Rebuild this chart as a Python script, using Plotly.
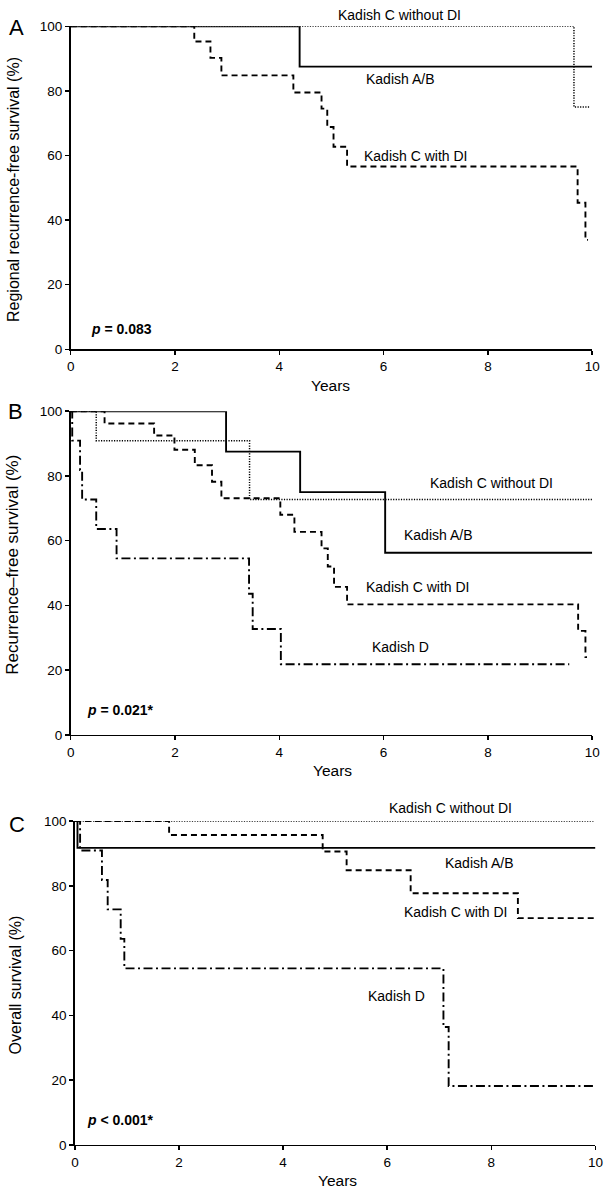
import plotly.graph_objects as go

W, H = 611, 1200
FONT = "Arial, 'Liberation Sans', sans-serif"

# ---------------- data (years, survival %) ----------------
# Panel A: regional recurrence-free survival
a_ab_t = [0, 4.39, 10]
a_ab_s = [100, 87.5, 87.5]
a_cno_t = [0, 9.65, 9.96]
a_cno_s = [100, 75, 75]
a_cdi_t = [0, 2.37, 2.68, 2.89, 4.27, 4.81, 4.92, 5.04, 5.30, 9.72, 9.87, 9.92]
a_cdi_s = [100, 95.3, 90.2, 84.8, 79.5, 74.5, 68.8, 62.7, 56.6, 45.4, 33.9, 33.9]

# Panel B: recurrence-free survival
b_ab_t = [0, 2.98, 4.40, 6.03, 10]
b_ab_s = [100, 87.5, 75, 56.25, 56.25]
b_cno_t = [0, 0.49, 3.43, 10]
b_cno_s = [100, 90.9, 72.7, 72.7]
b_cdi_t = [0, 0.65, 1.60, 1.99, 2.38, 2.71, 2.89, 4.02, 4.29, 4.81, 4.93, 5.05, 5.30, 9.73, 9.87, 9.90]
b_cdi_s = [100, 96.2, 92.5, 88.1, 83.3, 78.2, 73.1, 68.0, 62.7, 57.6, 52.0, 45.7, 40.3, 32.1, 24.0, 24.0]
b_d_t = [0, 0.03, 0.18, 0.22, 0.49, 0.88, 3.42, 3.49, 4.03, 9.56]
b_d_s = [100, 90.9, 81.8, 72.7, 63.6, 54.5, 43.6, 32.7, 21.8, 21.8]

# Panel C: overall survival
c_ab_t = [0, 0.05, 10]
c_ab_s = [100, 91.7, 91.7]
c_cno_t = [0, 9.97]
c_cno_s = [100, 100]
c_cdi_t = [0, 1.81, 4.76, 5.22, 6.45, 8.51, 10]
c_cdi_s = [100, 95.7, 90.6, 84.8, 77.7, 70.0, 70.0]
c_d_t = [0, 0.10, 0.52, 0.63, 0.88, 0.95, 7.08, 7.18, 10]
c_d_s = [100, 90.9, 81.8, 72.7, 63.6, 54.5, 36.4, 18.2, 18.2]

x_ticks = [0, 2, 4, 6, 8, 10]
y_ticks = [0, 20, 40, 60, 80, 100]

STYLES = {
    "ab": dict(color="#000", width=1.9, dash="solid"),
    "cno": dict(color="#000", width=1.5, dash="1.2px,1.4px"),
    "cdi": dict(color="#000", width=1.9, dash="6px,4px"),
    "d": dict(color="#000", width=1.9, dash="9px,3.5px,2px,3.5px"),
}

fig = go.Figure()

def step(t, s, key, n):
    fig.add_trace(go.Scatter(
        x=t, y=s, mode="lines", line_shape="hv", line=STYLES[key],
        xaxis="x" if n == 1 else f"x{n}", yaxis="y" if n == 1 else f"y{n}",
        cliponaxis=False, showlegend=False, hoverinfo="skip"))

step(a_ab_t, a_ab_s, "ab", 1)
step(a_cno_t, a_cno_s, "cno", 1)
step(a_cdi_t, a_cdi_s, "cdi", 1)

step(b_ab_t, b_ab_s, "ab", 2)
step(b_cno_t, b_cno_s, "cno", 2)
step(b_cdi_t, b_cdi_s, "cdi", 2)
step(b_d_t, b_d_s, "d", 2)

step(c_ab_t, c_ab_s, "ab", 3)
step(c_cno_t, c_cno_s, "cno", 3)
step(c_cdi_t, c_cdi_s, "cdi", 3)
step(c_d_t, c_d_s, "d", 3)

def xax(dom, anchor):
    return dict(domain=dom, range=[0, 10], anchor=anchor, showline=True, linecolor="#000",
                linewidth=1.6, ticks="outside", ticklen=4, tickwidth=1.5, tickcolor="#000",
                tickvals=x_ticks, showgrid=False, zeroline=False,
                tickfont=dict(family=FONT, size=13.5, color="#000"))

def yax(dom, anchor):
    return dict(domain=dom, range=[0, 100], anchor=anchor, showline=True, linecolor="#000",
                linewidth=1.6, ticks="outside", ticklen=4, tickwidth=1.5, tickcolor="#000",
                tickvals=y_ticks, showgrid=False, zeroline=False,
                tickfont=dict(family=FONT, size=13.5, color="#000"))

xAB = [68 / W, 600 / W]
xC = [72.3 / W, 603.3 / W]
yA = [1 - 346.7 / H, 1 - 19.5 / H]
yB = [1 - 737 / H, 1 - 409.3 / H]
yC = [1 - 1152.3 / H, 1 - 824.3 / H]

fig.update_layout(
    width=W, height=H, margin=dict(l=0, r=0, t=0, b=0),
    paper_bgcolor="white", plot_bgcolor="white",
    xaxis=xax(xAB, "y"), yaxis=yax(yA, "x"),
    xaxis2=xax(xAB, "y2"), yaxis2=yax(yB, "x2"),
    xaxis3=xax(xC, "y3"), yaxis3=yax(yC, "x3"),
)

ann = []

def label(text, x, y, n, size=14, xanchor="center"):
    ann.append(dict(text=text, x=x, y=y, xref="x" if n == 1 else f"x{n}",
                    yref="y" if n == 1 else f"y{n}", showarrow=False, xanchor=xanchor,
                    yanchor="middle", font=dict(family=FONT, size=size, color="#000")))

def ptext(text, px, py, size, angle=0):
    ann.append(dict(text=text, x=px / W, y=1 - py / H, xref="paper", yref="paper",
                    showarrow=False, xanchor="center", yanchor="middle", textangle=angle,
                    font=dict(family=FONT, size=size, color="#000")))

# Panel A labels
ptext("Kadish C without DI", 403, 8, 14)
label("Kadish A/B", 6.32, 83.7, 1)
label("Kadish C with DI", 6.62, 59.9, 1)
label("<b><i>p</i> = 0.083</b>", 0.36, 6.3, 1, xanchor="left")
# Panel B labels
label("Kadish C without DI", 8.06, 77.9, 2)
label("Kadish A/B", 7.05, 61.6, 2)
label("Kadish C with DI", 6.65, 45.6, 2)
label("Kadish D", 6.33, 27.1, 2)
label("<b><i>p</i> = 0.021*</b>", 0.28, 7.7, 2, xanchor="left")
# Panel C labels
ptext("Kadish C without DI", 455, 810.7, 14)
label("Kadish A/B", 7.77, 86.9, 3)
label("Kadish C with DI", 7.32, 72.0, 3)
label("Kadish D", 6.17, 45.9, 3)
label("<b><i>p</i> &lt; 0.001*</b>", 0.20, 7.8, 3, xanchor="left")

# panel letters, axis titles
ptext("A", 12.5, 20.5, 22)
ptext("B", 12, 410, 22)
ptext("C", 13, 828, 22)
ptext("Years", 333, 383, 15.5)
ptext("Years", 335, 773, 15.5)
ptext("Years", 340, 1188, 15.5)
ptext("Regional recurrence-free survival (%)", 9, 184.5, 16, -90)
ptext("Recurrence–free survival (%)", 9, 565, 17, -90)
ptext("Overall survival (%)", 12, 990, 16, -90)

fig.update_layout(annotations=ann)
fig.write_html("out.html", config={"displayModeBar": False, "staticPlot": True},
               post_script="document.body.style.margin='0px';")
